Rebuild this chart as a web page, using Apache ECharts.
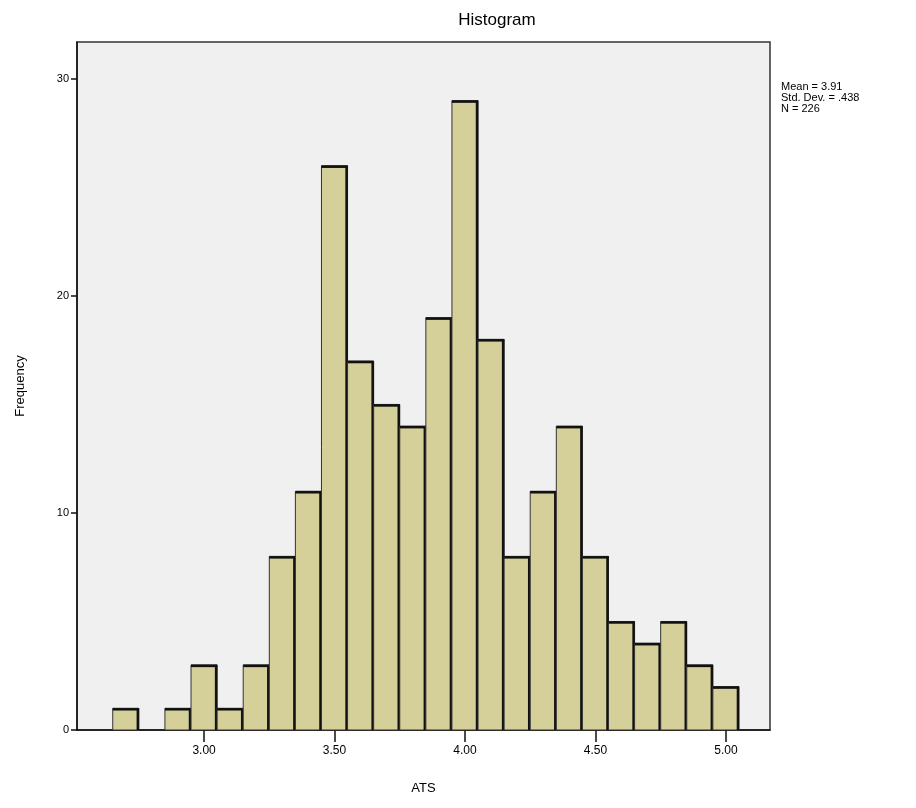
<!DOCTYPE html>
<html><head><meta charset="utf-8">
<script src="https://cdn.jsdelivr.net/npm/echarts@6/dist/echarts.min.js"></script>
<style>html,body{margin:0;padding:0;background:#fff}#c{width:916px;height:808px}</style>
</head><body><div id="c"></div>
<script>
// Bin centres (value) and frequencies
const binCenters = [2.70, 2.90, 3.00, 3.10, 3.20, 3.30, 3.40, 3.50, 3.60, 3.70, 3.80, 3.90, 4.00, 4.10, 4.20, 4.30, 4.40, 4.50, 4.60, 4.70, 4.80, 4.90, 5.00];
const frequencies = [1, 1, 3, 1, 3, 8, 11, 26, 17, 15, 14, 19, 29, 18, 8, 11, 14, 8, 5, 4, 5, 3, 2];
const binWidth = 0.1;
const xTicks = [3.00, 3.50, 4.00, 4.50, 5.00];
const yTicks = [0, 10, 20, 30];
const statsLines = ['Mean = 3.91', 'Std. Dev. = .438', 'N = 226'];
const titleText = 'Histogram';
const xName = 'ATS';
const yName = 'Frequency';

const data = binCenters.map((c, i) => [c, frequencies[i]]);
const chart = echarts.init(document.getElementById('c'));
chart.setOption({
  animation: false,
  backgroundColor: '#ffffff',
  title: {
    text: titleText, left: 492, top: 7, textAlign: 'center',
    textStyle: { fontFamily: 'Liberation Sans', fontSize: 17, fontWeight: 'normal', color: '#000' }
  },
  graphic: [{
    type: 'text', left: 781, top: 81,
    style: { text: statsLines.join('\n'), fontFamily: 'Liberation Sans', fontSize: 11, lineHeight: 11, fill: '#000' }
  }],
  grid: {
    left: 77, top: 42, width: 693, height: 688, show: true,
    backgroundColor: '#f0f0f0', borderColor: '#333', borderWidth: 1.5
  },
  xAxis: {
    type: 'value', min: 2.513, max: 5.169, interval: 0.5,
    name: xName, nameLocation: 'middle', nameGap: 52,
    nameTextStyle: { fontFamily: 'Liberation Sans', fontSize: 13, color: '#000' },
    axisLine: { lineStyle: { color: '#111', width: 1.5 } },
    axisTick: { show: true, length: 12, lineStyle: { color: '#111', width: 1.5 }, customValues: xTicks },
    axisLabel: { customValues: xTicks, formatter: v => v.toFixed(2), fontFamily: 'Liberation Sans', fontSize: 12, color: '#000', margin: 15 },
    splitLine: { show: false }
  },
  yAxis: {
    type: 'value', min: 0, max: 31.7,
    name: yName, nameLocation: 'middle', nameGap: 50, nameRotate: 90,
    nameTextStyle: { fontFamily: 'Liberation Sans', fontSize: 13, color: '#000' },
    axisLine: { show: true, lineStyle: { color: '#111', width: 1.5 } },
    axisTick: { show: true, length: 6, lineStyle: { color: '#111', width: 1.5 }, customValues: yTicks },
    axisLabel: { customValues: yTicks, fontFamily: 'Liberation Sans', fontSize: 11, color: '#000' },
    splitLine: { show: false }
  },
  series: [{
    type: 'custom',
    data: data,
    renderItem: function (params, api) {
      const c = api.value(0), f = api.value(1);
      const p0 = api.coord([c - binWidth / 2, f]);
      const p1 = api.coord([c + binWidth / 2, 0]);
      const w = p1[0] - p0[0], h = p1[1] - p0[1];
      return {
        type: 'group',
        children: [
          { type: 'rect', shape: { x: p0[0], y: p0[1], width: w, height: h },
            style: { fill: '#d5cf9a', stroke: '#333', lineWidth: 1 } },
          { type: 'line', shape: { x1: p1[0] - 1, y1: p0[1], x2: p1[0] - 1, y2: p1[1] },
            style: { stroke: '#111', lineWidth: 2.5 } },
          { type: 'line', shape: { x1: p0[0], y1: p0[1] + 1, x2: p1[0], y2: p0[1] + 1 },
            style: { stroke: '#111', lineWidth: 2.5 } }
        ]
      };
    }
  }]
});
</script></body></html>
